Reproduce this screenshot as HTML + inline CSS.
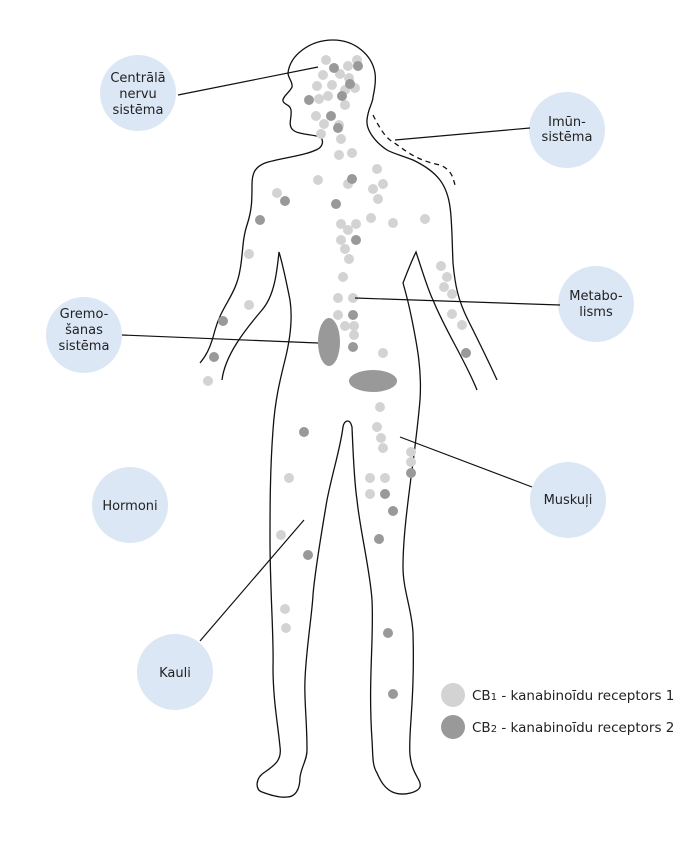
<!DOCTYPE html>
<html><head><meta charset="utf-8"><style>
html,body{margin:0;padding:0;background:#fff;}
svg{display:block;}
text{font-family:"DejaVu Sans","Liberation Sans",sans-serif;font-size:13px;fill:#222;}
</style></head><body>
<svg width="700" height="842" viewBox="0 0 700 842" xmlns="http://www.w3.org/2000/svg">
<g fill="#dbe7f5">
<circle cx="138" cy="93" r="38"/><circle cx="567" cy="130" r="38"/><circle cx="596" cy="304" r="38"/>
<circle cx="84" cy="335" r="38"/><circle cx="130" cy="505" r="38"/><circle cx="568" cy="500" r="38"/><circle cx="175" cy="672" r="38"/>
</g>
<g text-anchor="middle">
<text x="138" y="82">Centrālā</text><text x="138" y="98">nervu</text><text x="138" y="114">sistēma</text>
<text x="567" y="126">Imūn-</text><text x="567" y="141">sistēma</text>
<text x="596" y="300">Metabo-</text><text x="596" y="316">lisms</text>
<text x="84" y="318">Gremo-</text><text x="84" y="334">šanas</text><text x="84" y="350">sistēma</text>
<text x="130" y="510">Hormoni</text><text x="568" y="504">Muskuļi</text><text x="175" y="677">Kauli</text>
</g>
<g fill="none" stroke="#111" stroke-width="1.3">
<path d="M333 40 C310 40 290 55 288 73 C288 78 293 82 292 87 C290 92 282 97 283 101 C284 105 290 104 291 110 C292 118 288 124 292 129 C297 135 312 134 320 137 C324 140 323 146 318 149 C305 156 280 158 265 163 C255 167 252 173 252 185 C252 200 252 210 247 225 C242 240 243 255 240 270 C236 295 222 305 215 330 C210 350 205 357 200 363"/>
<path d="M222 380 C225 355 245 330 262 310 C275 295 277 270 279 252 C282 262 286 280 290 300 C293 320 290 340 285 360 C280 380 275 400 273 430 C270 470 270 510 270 540 C270 590 274 640 273 667 C273 700 278 725 280 747 C282 760 275 765 265 772 C255 778 255 790 262 792 C270 795 280 798 287 797 C295 797 300 790 300 777 C302 765 307 760 307 750 C307 720 304 700 305 680 C306 650 312 615 313 595 C315 570 322 530 327 500 C333 470 340 450 343 427 C344 420 350 418 352 427 C353 450 354 480 357 500 C360 530 370 570 372 600 C374 640 368 680 372 740 C373 755 372 765 377 773 C380 780 385 790 395 793 C405 796 418 792 420 787 C422 780 412 775 410 755 C408 735 415 700 413 633 C412 610 403 590 403 567 C403 520 415 460 420 400 C422 370 417 345 412 320 C408 300 405 290 403 283 C408 270 412 260 416 252 C422 270 428 290 433 300 C445 330 465 360 477 390"/>
<path d="M497 380 C488 360 478 340 468 320 C458 300 455 285 453 263 C452 240 452 220 450 207 C447 185 438 172 413 160 C400 155 392 153 387 150 C375 142 366 130 367 120 C368 108 373 103 373 97 C375 88 376 80 375 73 C372 55 355 40 333 40"/>
</g>
<path d="M373 115 C378 125 385 138 393 142 C405 150 415 160 440 165 C452 170 453 178 455 185" fill="none" stroke="#111" stroke-width="1.3" stroke-dasharray="5,4"/>
<g fill="#d3d3d3">
<circle cx="326" cy="60" r="5"/><circle cx="357" cy="60" r="5"/><circle cx="348" cy="66" r="5"/><circle cx="340" cy="74" r="5"/><circle cx="323" cy="75" r="5"/><circle cx="349" cy="78" r="5"/><circle cx="332" cy="85" r="5"/><circle cx="317" cy="86" r="5"/><circle cx="355" cy="88" r="5"/><circle cx="345" cy="90" r="5"/><circle cx="328" cy="96" r="5"/><circle cx="319" cy="99" r="5"/><circle cx="345" cy="105" r="5"/><circle cx="316" cy="116" r="5"/><circle cx="324" cy="124" r="5"/><circle cx="339" cy="125" r="5"/><circle cx="321" cy="134" r="5"/><circle cx="341" cy="139" r="5"/><circle cx="339" cy="155" r="5"/><circle cx="352" cy="153" r="5"/><circle cx="377" cy="169" r="5"/><circle cx="348" cy="184" r="5"/><circle cx="383" cy="184" r="5"/><circle cx="373" cy="189" r="5"/><circle cx="318" cy="180" r="5"/><circle cx="277" cy="193" r="5"/><circle cx="378" cy="199" r="5"/><circle cx="371" cy="218" r="5"/><circle cx="393" cy="223" r="5"/><circle cx="425" cy="219" r="5"/><circle cx="341" cy="224" r="5"/><circle cx="356" cy="224" r="5"/><circle cx="348" cy="230" r="5"/><circle cx="341" cy="240" r="5"/><circle cx="345" cy="249" r="5"/><circle cx="349" cy="259" r="5"/><circle cx="343" cy="277" r="5"/><circle cx="338" cy="298" r="5"/><circle cx="353" cy="298" r="5"/><circle cx="338" cy="315" r="5"/><circle cx="345" cy="326" r="5"/><circle cx="354" cy="326" r="5"/><circle cx="354" cy="335" r="5"/><circle cx="249" cy="254" r="5"/><circle cx="249" cy="305" r="5"/><circle cx="208" cy="381" r="5"/><circle cx="383" cy="353" r="5"/><circle cx="441" cy="266" r="5"/><circle cx="447" cy="277" r="5"/><circle cx="444" cy="287" r="5"/><circle cx="452" cy="294" r="5"/><circle cx="452" cy="314" r="5"/><circle cx="462" cy="325" r="5"/><circle cx="380" cy="407" r="5"/><circle cx="377" cy="427" r="5"/><circle cx="381" cy="438" r="5"/><circle cx="383" cy="448" r="5"/><circle cx="411" cy="452" r="5"/><circle cx="411" cy="462" r="5"/><circle cx="370" cy="478" r="5"/><circle cx="385" cy="478" r="5"/><circle cx="370" cy="494" r="5"/><circle cx="289" cy="478" r="5"/><circle cx="281" cy="535" r="5"/><circle cx="285" cy="609" r="5"/><circle cx="286" cy="628" r="5"/>
</g>
<g fill="#999">
<circle cx="334" cy="68" r="5"/><circle cx="358" cy="66" r="5"/><circle cx="350" cy="84" r="5"/><circle cx="309" cy="100" r="5"/><circle cx="342" cy="96" r="5"/><circle cx="331" cy="116" r="5"/><circle cx="338" cy="128" r="5"/><circle cx="352" cy="179" r="5"/><circle cx="336" cy="204" r="5"/><circle cx="285" cy="201" r="5"/><circle cx="260" cy="220" r="5"/><circle cx="356" cy="240" r="5"/><circle cx="353" cy="315" r="5"/><circle cx="353" cy="347" r="5"/><circle cx="223" cy="321" r="5"/><circle cx="214" cy="357" r="5"/><circle cx="466" cy="353" r="5"/><circle cx="304" cy="432" r="5"/><circle cx="411" cy="473" r="5"/><circle cx="385" cy="494" r="5"/><circle cx="393" cy="511" r="5"/><circle cx="379" cy="539" r="5"/><circle cx="308" cy="555" r="5"/><circle cx="388" cy="633" r="5"/><circle cx="393" cy="694" r="5"/>
<ellipse cx="329" cy="342" rx="11" ry="24"/><ellipse cx="373" cy="381" rx="24" ry="11"/>
</g>
<g stroke="#111" stroke-width="1.2">
<line x1="178" y1="95" x2="318" y2="67"/><line x1="395" y1="140" x2="530" y2="128"/>
<line x1="355" y1="298" x2="560" y2="305"/><line x1="122" y1="335" x2="318" y2="343"/>
<line x1="400" y1="437" x2="532" y2="487"/><line x1="200" y1="641" x2="304" y2="520"/>
</g>
<circle cx="453" cy="695" r="12" fill="#d3d3d3"/><circle cx="453" cy="727" r="12" fill="#999"/>
<text x="472" y="700" style="font-size:13.5px">CB<tspan font-size="10">1</tspan> - kanabinoīdu receptors 1</text>
<text x="472" y="732" style="font-size:13.5px">CB<tspan font-size="10">2</tspan> - kanabinoīdu receptors 2</text>
</svg>
</body></html>
